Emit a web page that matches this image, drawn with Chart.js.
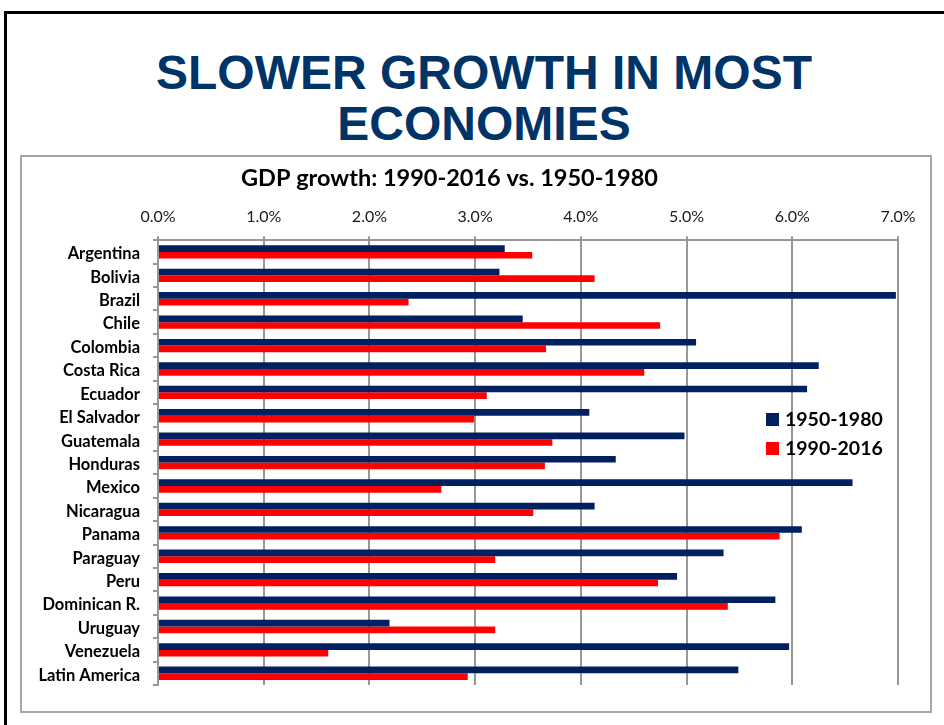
<!DOCTYPE html>
<html>
<head>
<meta charset="utf-8">
<script src="https://cdn.jsdelivr.net/npm/chart.js@4.4.0/dist/chart.umd.min.js"></script>
<style>
  html, body { margin: 0; padding: 0; background: #fff; }
  body { width: 944px; height: 725px; position: relative; overflow: hidden; }
  .slide { position: absolute; left: 4px; top: 11px; right: -10px; bottom: -10px;
           border-left: 3px solid #000; border-top: 3px solid #000; }
  .headline { position: absolute; left: 0; width: 968px; text-align: center;
              font-family: "Liberation Sans", Arial, sans-serif; font-weight: bold;
              font-size: 48px; line-height: 52px; color: #003366; white-space: nowrap; }
  .box { position: absolute; left: 20px; top: 155px; width: 908px; height: 554px;
         border: 2px solid #a6a6a6; }
  #chart { position: absolute; left: 0; top: 0; }
</style>
</head>
<body>
<div class="slide"></div>
<div class="headline" style="top:47px">SLOWER GROWTH IN MOST</div>
<div class="headline" style="top:98px">ECONOMIES</div>
<div class="box"></div>
<canvas id="chart" width="944" height="725"></canvas>
<script>
// GDP growth, % per year
const countries = ['Argentina', 'Bolivia', 'Brazil', 'Chile', 'Colombia', 'Costa Rica', 'Ecuador',
  'El Salvador', 'Guatemala', 'Honduras', 'Mexico', 'Nicaragua', 'Panama', 'Paraguay', 'Peru',
  'Dominican R.', 'Uruguay', 'Venezuela', 'Latin America'];
const growth1950_1980 = [3.28, 3.23, 6.98, 3.45, 5.09, 6.25, 6.14, 4.08, 4.98, 4.33, 6.57, 4.13,
  6.09, 5.35, 4.91, 5.84, 2.19, 5.97, 5.49];
const growth1990_2016 = [3.54, 4.13, 2.37, 4.75, 3.67, 4.60, 3.11, 2.99, 3.73, 3.66, 2.68, 3.55,
  5.88, 3.19, 4.73, 5.39, 3.19, 1.61, 2.93];
const seriesNames = ['1950-1980', '1990-2016'];
const seriesColors = ['#002060', '#ff0000'];
const xMin = 0, xMax = 7, xStep = 1;

const gridColor = '#979797';

// legend drawn inside the plot, to the right like in the original
const floatLegend = {
  id: 'floatLegend',
  afterDraw(chart) {
    const ctx = chart.ctx;
    ctx.save();
    ctx.font = 'bold 19.5px Lato, sans-serif';
    ctx.textBaseline = 'middle';
    ctx.textAlign = 'left';
    chart.data.datasets.forEach((ds, i) => {
      const y = 413 + i * 29;
      ctx.fillStyle = ds.backgroundColor;
      ctx.fillRect(766, y, 13, 13);
      ctx.fillStyle = '#000';
      ctx.fillText(ds.label, 785, y + 7);
    });
    ctx.restore();
  }
};

new Chart(document.getElementById('chart'), {
  type: 'bar',
  data: {
    labels: countries,
    datasets: [
      { label: seriesNames[0], data: growth1950_1980, backgroundColor: seriesColors[0] },
      { label: seriesNames[1], data: growth1990_2016, backgroundColor: seriesColors[1] }
    ]
  },
  options: {
    indexAxis: 'y',
    responsive: false,
    animation: false,
    categoryPercentage: 0.57,
    barPercentage: 1.0,
    layout: { padding: { top: 150, left: 1, right: 46, bottom: 40 } },
    plugins: {
      legend: { display: false },
      tooltip: { enabled: false },
      title: {
        display: true,
        text: 'GDP growth: 1990-2016 vs. 1950-1980',
        color: '#000',
        font: { family: 'Lato, sans-serif', size: 23.5, weight: 'bold' },
        padding: { top: 14, bottom: 5 }
      }
    },
    scales: {
      x: {
        position: 'top',
        min: xMin,
        max: xMax,
        afterFit: (scale) => { scale.height = 43; },
        grid: { color: gridColor, lineWidth: 2, tickLength: 4 },
        border: { color: gridColor, width: 2 },
        ticks: {
          stepSize: xStep,
          padding: 10,
          color: '#1a1a1a',
          font: { family: 'Lato, sans-serif', size: 16 },
          callback: (v) => v.toFixed(1) + '%'
        }
      },
      y: {
        afterFit: (scale) => { scale.width = 157; },
        grid: { drawOnChartArea: false, color: gridColor, lineWidth: 2, tickLength: 5 },
        border: { color: gridColor, width: 2 },
        ticks: {
          padding: 13,
          labelOffset: 2,
          color: '#000',
          font: { family: 'Lato, sans-serif', size: 16.5, weight: 'bold' }
        }
      }
    }
  },
  plugins: [floatLegend]
});
</script>
</body>
</html>
